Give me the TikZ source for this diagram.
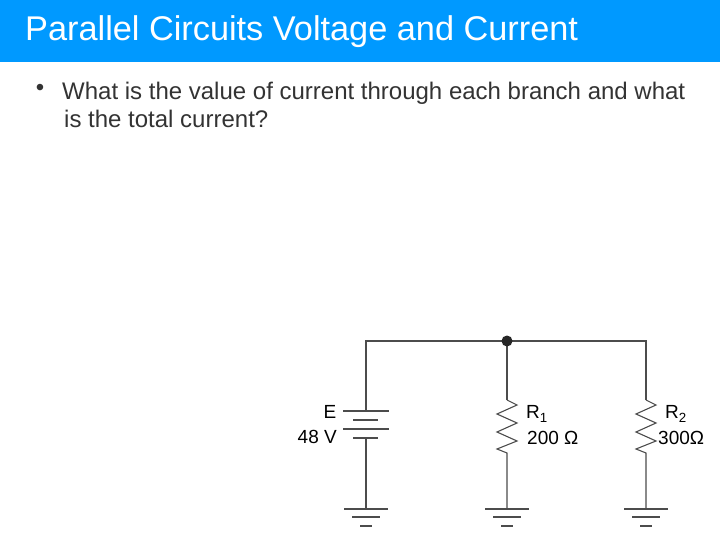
\documentclass[tikz,border=0pt]{standalone}
\usepackage{fontspec}
\setmainfont{Liberation Sans}
\begin{document}
\begin{tikzpicture}[x=1pt,y=-1pt,
  wire/.style={draw=black!70,line width=1.1pt},
  lbl/.style={inner sep=0pt,font=\fontsize{19}{19}\selectfont},
  body/.style={inner sep=0pt,anchor=west,font=\fontsize{24}{26}\selectfont,text=black!80}]
\useasboundingbox (0,0) rectangle (720,540);
\fill[white] (0,0) rectangle (720,540);
\fill[fill={rgb,255:red,0;green,153;blue,255}] (0,0) rectangle (720,62);
\node[inner sep=0pt,anchor=west,text=white,font=\fontsize{34.3}{34}\selectfont] (title) at (25,32) {Parallel Circuits Voltage and Current};
\node[inner sep=0pt,font=\fontsize{24}{24}\selectfont,text=black!80] (bul) at (40,90) {•};
\node[body] (l1) at (62,93) {What is the value of current through each branch and what};
\node[body] (l2) at (64,119) {is the total current?};
\coordinate (tl) at (366,341); \coordinate (tm) at (507,341); \coordinate (tr) at (646,341);
\draw[wire] (366,411) -- (tl) -- (tr) -- (646,400);
\draw[wire] (tm) -- (507,400);
\fill[black!85] (tm) circle (5.5);
\draw[wire] (343,411) -- (389,411);
\draw[wire] (353,420) -- (378,420);
\draw[wire] (343,429) -- (389,429);
\draw[wire] (353,438) -- (378,438);
\draw[wire] (366,438) -- (366,509);
\foreach \x in {507,646}{
 \draw[wire,line join=miter] (\x,400) -- (\x+10,405) -- (\x-10,414) -- (\x+10,423) -- (\x-10,432) -- (\x+10,441) -- (\x-10,449) -- (\x,453) -- (\x,509);
}
\foreach \x in {366,507,646}{
 \draw[wire] (\x-22,509) -- (\x+22,509);
 \draw[wire] (\x-14,517) -- (\x+14,517);
 \draw[wire] (\x-6,526) -- (\x+6,526);
}
\node[lbl] (e) at (330,412) {E};
\node[lbl,anchor=east] (ev) at (337,437) {48 V};
\node[lbl,anchor=west] (r1) at (526,414) {R\textsubscript{1}};
\node[lbl,anchor=west] (r1v) at (527,438) {200 Ω};
\node[lbl,anchor=west] (r2) at (665,414) {R\textsubscript{2}};
\node[lbl,anchor=west] (r2v) at (658,438) {300Ω};
\end{tikzpicture}
\end{document}
